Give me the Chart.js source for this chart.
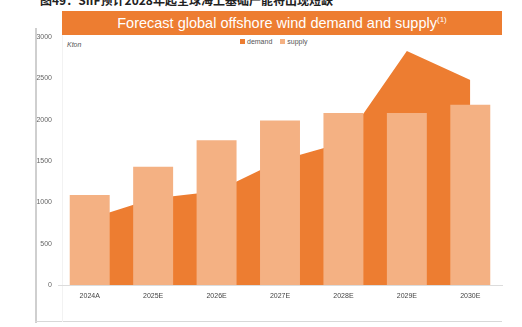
<!DOCTYPE html>
<html>
<head>
  <meta charset="UTF-8">
  <title>Forecast global offshore wind demand and supply</title>
  <script src="https://cdn.jsdelivr.net/npm/chart.js"></script>
  <style>
    * { margin: 0; padding: 0; box-sizing: border-box; }
    body {
      width: 522px;
      height: 327px;
      background: #fff;
      position: relative;
      overflow: hidden;
      font-family: "Liberation Sans", Arial, sans-serif;
    }
    .caption {
      position: absolute;
      left: 40px;
      top: -9px;
      font-family: "Noto Sans CJK SC", sans-serif;
      font-size: 12px;
      font-weight: bold;
      color: #222;
      white-space: nowrap;
    }
    .frame-left { position: absolute; left: 35px; top: 28px; width: 2px; height: 295px; background: #cfcfcf; }
    .frame-bottom { position: absolute; left: 35px; top: 321px; width: 467px; height: 1px; background: #d8d8d8; }
    .slide-edge { position: absolute; left: 62px; top: 35px; width: 1px; height: 287px; background: #f2f2f2; }
    .banner {
      position: absolute;
      left: 62px;
      top: 11px;
      width: 440px;
      height: 24px;
      background: #ED7D31;
      color: #fff;
      font-size: 14.5px;
      line-height: 24px;
      text-align: center;
      white-space: nowrap;
    }
    .banner sup { font-size: 8px; vertical-align: 6px; line-height: 0; }
    .unit { position: absolute; left: 67px; top: 41px; font-size: 7px; font-style: italic; color: #555; }
    .legend { position: absolute; left: 240px; top: 38px; font-size: 7px; color: #555; white-space: nowrap; }
    .legend span.sw { display: inline-block; width: 5px; height: 5px; margin-right: 2px; vertical-align: 0px; }
    .legend .item { margin-right: 6px; }
    canvas { position: absolute; left: 0; top: 0; }
  </style>
</head>
<body>
  <div class="caption">图49：SIIF预计2028年起全球海上基础产能将出现短缺</div>
  <div class="frame-left"></div>
  <div class="frame-bottom"></div>
  <div class="slide-edge"></div>
  <div class="banner">Forecast global offshore wind demand and supply<sup>(1)</sup></div>
  <div class="unit">Kton</div>
  <div class="legend">
    <span class="item"><span class="sw" style="background:#ED7D31"></span>demand</span>
    <span class="item"><span class="sw" style="background:#F4B183"></span>supply</span>
  </div>
  <canvas id="chart" width="522" height="327"></canvas>

  <script>
    // --- Data (Kton) ---
    const years  = ['2024A', '2025E', '2026E', '2027E', '2028E', '2029E', '2030E'];
    const demand = [800, 1045, 1135, 1505, 1725, 2830, 2480];
    const supply = [1090, 1430, 1750, 1990, 2080, 2080, 2180];
    const yTicks = [0, 500, 1000, 1500, 2000, 2500, 3000];

    new Chart(document.getElementById('chart'), {
      type: 'bar',
      data: {
        labels: years,
        datasets: [
          {
            type: 'bar',
            label: 'supply',
            data: supply,
            backgroundColor: '#F4B183',
            barPercentage: 0.63,
            categoryPercentage: 1,
            order: 1,
          },
          {
            type: 'line',
            label: 'demand',
            data: demand,
            borderWidth: 0,
            borderColor: '#ED7D31',
            backgroundColor: '#ED7D31',
            fill: 'origin',
            tension: 0,
            pointRadius: 0,
            order: 2,
          },
        ]
      },
      options: {
        responsive: false,
        animation: false,
        layout: { padding: { left: 0, right: 20, top: 37, bottom: 0 } },
        plugins: {
          legend: { display: false },
          tooltip: { enabled: false },
        },
        scales: {
          x: {
            offset: true,
            grid: { display: false, drawTicks: false },
            border: { color: '#dcdcdc', width: 1 },
            ticks: { color: '#444', font: { size: 7, family: 'Liberation Sans' }, padding: 7 },
            afterFit: (s) => { s.height = 42; },
          },
          y: {
            min: 0,
            max: 3000,
            afterBuildTicks: (s) => { s.ticks = yTicks.map(v => ({ value: v })); },
            grid: { display: false, drawTicks: false },
            border: { display: false },
            ticks: {
              color: '#666',
              font: { size: 7, family: 'Liberation Sans' },
              padding: 6,
              callback: (v) => String(v),
            },
            afterFit: (s) => { s.width = 58; },
          }
        }
      }
    });
  </script>
</body>
</html>
